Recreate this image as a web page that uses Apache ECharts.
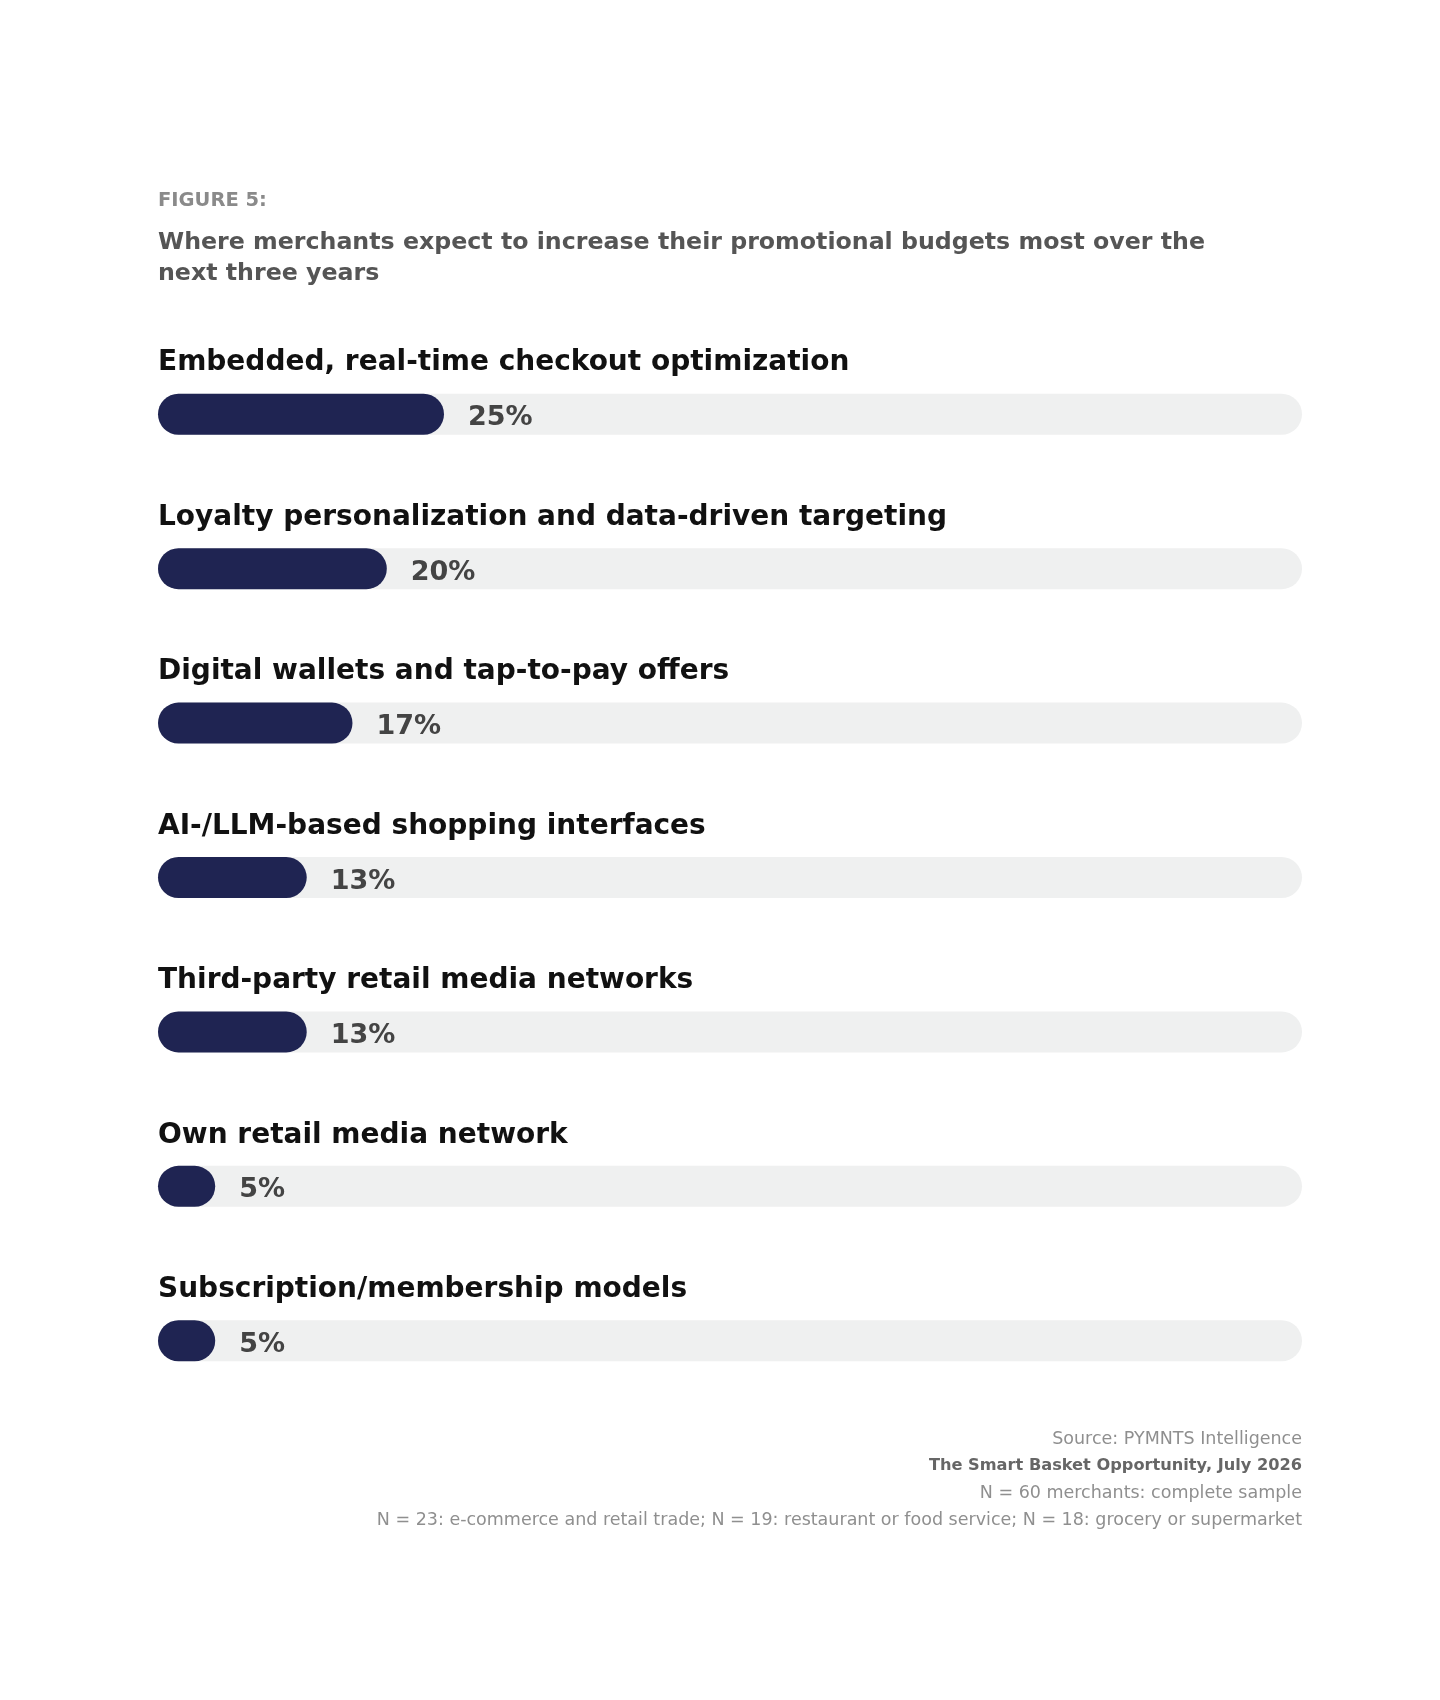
<!DOCTYPE html>
<html>
<head>
<meta charset="utf-8">
<title>Figure 5</title>
<script src="https://cdn.jsdelivr.net/npm/echarts@6/dist/echarts.min.js"></script>
<style>
  html, body { margin: 0; padding: 0; background: #ffffff; }
  #chart { width: 1440px; height: 1700px; }
</style>
</head>
<body>
<div id="chart"></div>
<script>
const categories = [
  "Embedded, real-time checkout optimization",
  "Loyalty personalization and data-driven targeting",
  "Digital wallets and tap-to-pay offers",
  "AI-/LLM-based shopping interfaces",
  "Third-party retail media networks",
  "Own retail media network",
  "Subscription/membership models"
];
const shares = [25, 20, 17, 13, 13, 5, 5];

const figureLabel = "FIGURE 5:";
const subtitleLines = [
  "Where merchants expect to increase their promotional budgets most over the",
  "next three years"
];
const footerLines = [
  { text: "Source: PYMNTS Intelligence", bold: false },
  { text: "The Smart Basket Opportunity, July 2026", bold: true },
  { text: "N = 60 merchants: complete sample", bold: false },
  { text: "N = 23: e-commerce and retail trade; N = 19: restaurant or food service; N = 18: grocery or supermarket", bold: false }
];

const NAVY = "#1f2452";
const TRACK = "#eff0f0";
const FONT = "'DejaVu Sans', 'Open Sans', sans-serif";

const chart = echarts.init(document.getElementById("chart"));

const titles = [
  {
    text: figureLabel,
    left: 158,
    top: 191,
    padding: 0,
    textStyle: { fontFamily: FONT, fontSize: 19.5, fontWeight: "bold", color: "#8a8a8a" }
  },
  {
    text: subtitleLines.join("\n"),
    left: 158,
    top: 227,
    padding: 0,
    textStyle: { fontFamily: FONT, fontSize: 23.7, fontWeight: "bold", color: "#555555", lineHeight: 31 }
  }
];

footerLines.forEach((line, i) => {
  titles.push({
    text: line.text,
    right: 138,
    top: (line.bold ? 1431 : 1430) + i * 27,
    padding: 0,
    textStyle: {
      fontFamily: FONT,
      fontSize: line.bold ? 16.2 : 17.5,
      fontWeight: line.bold ? "bold" : "normal",
      color: line.bold ? "#666666" : "#8f8f8f"
    }
  });
});

chart.setOption({
  backgroundColor: "#ffffff",
  animation: false,
  title: titles,
  grid: { left: 158, right: 138, top: 337, height: 1081, containLabel: false },
  xAxis: {
    type: "value",
    min: 0,
    max: 100,
    show: false
  },
  yAxis: {
    type: "category",
    data: categories,
    inverse: true,
    axisLine: { show: false },
    axisTick: { show: false },
    splitLine: { show: false },
    axisLabel: {
      inside: true,
      margin: 0,
      align: "left",
      verticalAlign: "bottom",
      padding: [0, 0, 33, 0],
      fontFamily: FONT,
      fontSize: 28,
      fontWeight: "bold",
      color: "#111111",
      lineHeight: 36
    }
  },
  series: [
    {
      type: "bar",
      data: shares,
      barWidth: 41,
      showBackground: true,
      backgroundStyle: { color: TRACK, borderRadius: 21 },
      itemStyle: { color: NAVY, borderRadius: 21 },
      label: {
        show: true,
        position: "right",
        distance: 24,
        offset: [0, 4],
        formatter: "{c}%",
        fontFamily: FONT,
        fontSize: 27,
        fontWeight: "bold",
        color: "#444444"
      }
    }
  ]
});

window.addEventListener("resize", () => chart.resize());
</script>
</body>
</html>
